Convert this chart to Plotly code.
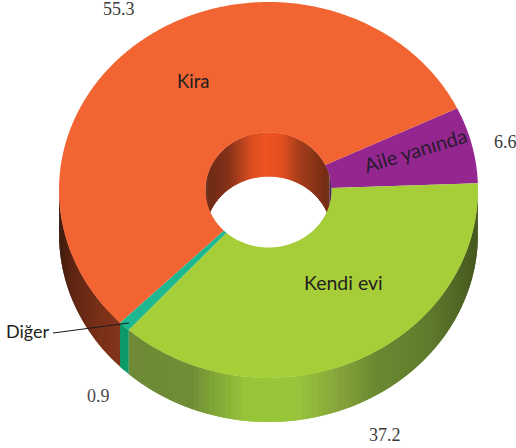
import numpy as np
import plotly.graph_objects as go

# Data, clockwise from the Kira / Aile yanında boundary
categories = ["Aile yanında", "Kendi evi", "Diğer", "Kira"]
values = [6.6, 37.2, 0.9, 55.3]
value_labels = ["6.6", "37.2", "0.9", "55.3"]
top_colors = ["#93278F", "#A6CE39", "#1DB88F", "#F26533"]

CX, CY, RX, RY = 268.5, 190.0, 209.5, 188.0
HX, HY = 63.0, 57.5
DEPTH = 44.0
START = 25.8


def outer(t):
    return CX + RX * np.cos(np.radians(t)), CY - RY * np.sin(np.radians(t))


def inner(t):
    return CX + HX * np.cos(np.radians(t)), CY - HY * np.sin(np.radians(t))


def lerp_color(x, stops):
    xs = [s[0] for s in stops]
    rgb = [np.interp(x, xs, [int(s[1][i:i + 2], 16) for s in stops]) for i in (1, 3, 5)]
    return "rgb(%d,%d,%d)" % tuple(rgb)


GREEN_WALL = [(125, "#6F8A38"), (190, "#6E8E35"), (245, "#98C43A"),
              (295, "#9AC63A"), (335, "#88A83C"), (375, "#6C8A32"), (430, "#5F7B2D"), (478, "#46581F")]
KIRA_WALL = [(58, "#3F1A0E"), (72, "#5E2613"), (100, "#7B3018"), (125, "#85361C")]
HOLE_WALL = [(205, "#6A2A16"), (228, "#85331A"), (252, "#DC4E20"), (265, "#EE5522"),
             (282, "#E24F20"), (300, "#A53E1C"), (332, "#6A2A14")]
DIGER_WALL = "#0B9A68"
AILE_WALL = "#3A1050"

# Boundary angles (clockwise, so decreasing)
bounds = START - np.concatenate([[0], np.cumsum(values)]) * 360.0 / sum(values)
fig = go.Figure()


def poly(xs, ys, color, name):
    fig.add_trace(go.Scatter(x=xs, y=ys, mode="none", fill="toself", fillcolor=color,
                             name=name, hoverinfo="name", showlegend=False))


def band(arc, a, b, b_over, color, name):
    """Wall strip from angle a to b_over; colour taken at the a..b midpoint."""
    ts = np.array([a, b_over])
    xs0, ys0 = arc(ts)
    poly(list(xs0) + list(xs0[::-1]), list(ys0) + list((ys0 + DEPTH)[::-1]), color, name)


# Inner wall of the hole (only the far half shows); strips overlap to hide seams
STEP = 1.5
for t in np.arange(0, 180, STEP):
    t2 = t + STEP
    xm = float(inner(np.array([t, t2]))[0].mean())
    color = AILE_WALL if t < 14 else lerp_color(xm, HOLE_WALL)
    band(inner, t, t2, min(t2 + STEP, 180 if t >= 14 else 14), color,
         categories[0] if t < 14 else categories[3])

# Outer wall (near half)
for i, name in enumerate(categories):
    hi, lo = bounds[i], bounds[i + 1]
    hi = min(hi, 0.0)
    lo = max(lo, -180.0)
    if hi <= lo:
        continue
    angles = np.arange(hi, lo, -STEP).tolist() + [lo]
    for a, b in zip(angles[:-1], angles[1:]):
        xm = float(outer(np.array([a, b]))[0].mean())
        if name == "Kendi evi":
            color = lerp_color(xm, GREEN_WALL)
        elif name == "Diğer":
            color = DIGER_WALL
        elif name == "Kira":
            color = lerp_color(xm, KIRA_WALL)
        else:
            color = AILE_WALL
        band(outer, a, b, max(b - STEP, lo), color, name)

# Top face
for i, name in enumerate(categories):
    ts = np.linspace(bounds[i], bounds[i + 1], max(int(values[i] * 6), 8))
    ox, oy = outer(ts)
    ix, iy = inner(ts[::-1])
    poly(list(ox) + list(ix) + [ox[0]], list(oy) + list(iy) + [oy[0]], top_colors[i], name)

# Leader line for Diğer
fig.add_trace(go.Scatter(x=[53, 129], y=[333, 323], mode="lines",
                         line=dict(color="#1a1a1a", width=1), hoverinfo="skip", showlegend=False))

SANS = "Lato, 'Open Sans', sans-serif"
SERIF = "'Liberation Serif', serif"


def label(x, y, text, size, family, color="#231F20", angle=0):
    fig.add_annotation(x=x, y=y, text=text, showarrow=False, textangle=angle,
                       font=dict(family=family, size=size, color=color),
                       xanchor="center", yanchor="middle")


label(193, 81, categories[3], 18.5, SANS)
label(343, 282, categories[1], 19.5, SANS)
label(415, 150, categories[0], 20, SANS, "#2a1a30", -17)
label(28, 331, categories[2], 18, SANS)
label(119, 9, value_labels[3], 18, SERIF, "#3a3a3a")
label(505, 142, value_labels[0], 18, SERIF, "#3a3a3a")
label(98, 396, value_labels[2], 18, SERIF, "#4a4a4a")
label(385, 435, value_labels[1], 18, SERIF, "#3a3a3a")

fig.update_layout(
    width=516, height=448, margin=dict(l=0, r=0, t=0, b=0),
    paper_bgcolor="white", plot_bgcolor="white", showlegend=False,
    xaxis=dict(range=[0, 516], visible=False, fixedrange=True),
    yaxis=dict(range=[448, 0], visible=False, fixedrange=True),
)
fig.write_html("out.html", config={"displayModeBar": False},
               post_script="document.body.style.margin='0';document.body.style.overflow='hidden';")
